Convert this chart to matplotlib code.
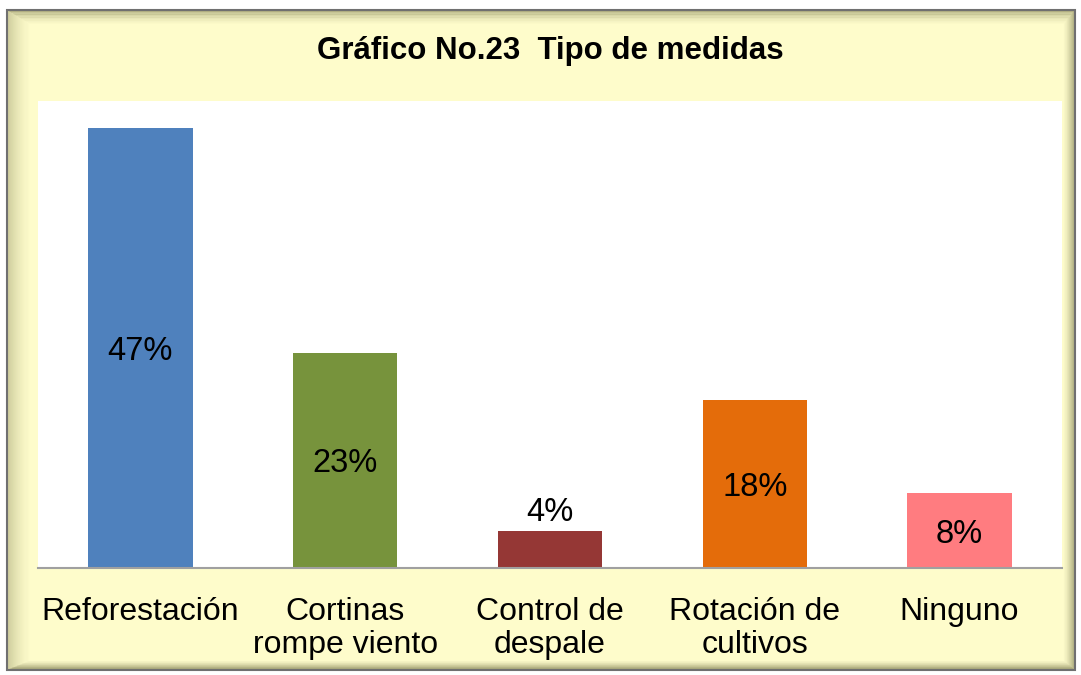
import matplotlib
matplotlib.use("Agg")
import matplotlib.pyplot as plt
import matplotlib.patches as mpatches

categories = ["Reforestación", "Cortinas\nrompe viento", "Control de\ndespale",
              "Rotación de\ncultivos", "Ninguno"]
values = [47, 23, 4, 18, 8]
labels = ["47%", "23%", "4%", "18%", "8%"]
colors = ["#4F81BD", "#77933C", "#953735", "#E46C0A", "#FF7C80"]

plt.rcParams["font.family"] = ["Liberation Sans", "DejaVu Sans"]

W, H = 1081, 675
fig = plt.figure(figsize=(W / 100, H / 100), dpi=100, facecolor="white")

def px_rect(x0, y0, x1, y1, **kw):
    # rectangle in pixel coords (origin top-left)
    return mpatches.Rectangle((x0 / W, 1 - y1 / H), (x1 - x0) / W, (y1 - y0) / H,
                              transform=fig.transFigure, **kw)

# frame background with inner shadow
fig.patches.append(px_rect(7, 10, 1075, 670, facecolor="#FEFCCB", edgecolor="none", zorder=0))
for i in range(24):
    a = 0.18 * (1 - i / 24) ** 1.6
    fig.patches.append(px_rect(7 + i, 10 + i * 0.6, 1075 - i * 0.5, 670 - i * 0.4,
                               facecolor="none", edgecolor="#4A4A20", alpha=a,
                               linewidth=1.2, zorder=0.5))
fig.patches.append(px_rect(7, 10, 1075, 670, facecolor="none", edgecolor="#707070",
                           linewidth=1.5, zorder=1))

# plot area
ax = fig.add_axes([38 / W, 1 - 568 / H, (1062 - 38) / W, (568 - 101) / H])
ax.set_zorder(3)
ax.set_facecolor("white")
x = range(len(categories))
bars = ax.bar(x, values, width=0.51, color=colors, zorder=2)
ax.set_xlim(-0.5, len(categories) - 0.5)
ax.set_ylim(0, 49.9)

for b, v, lab in zip(bars, values, labels):
    cx = b.get_x() + b.get_width() / 2
    if v < 6:
        ax.text(cx, v + 0.3, lab, ha="center", va="bottom", fontsize=23.5, color="black")
    else:
        ax.text(cx, v / 2, lab, ha="center", va="center_baseline", fontsize=23.5, color="black")

ax.set_xticks(list(x))
ax.set_xticklabels(categories, fontsize=23, linespacing=1.12)
ax.tick_params(axis="x", length=0, pad=21)
ax.set_yticks([])
for s in ["top", "right", "left"]:
    ax.spines[s].set_visible(False)
ax.spines["bottom"].set_color("#A0A0A0")
ax.spines["bottom"].set_linewidth(1.5)

fig.text(550 / W, 1 - 51 / H, "Gráfico No.23  Tipo de medidas", ha="center", va="center",
         fontsize=22.5, fontweight="bold", zorder=3)

fig.savefig("out.png", dpi=100, facecolor="white")
